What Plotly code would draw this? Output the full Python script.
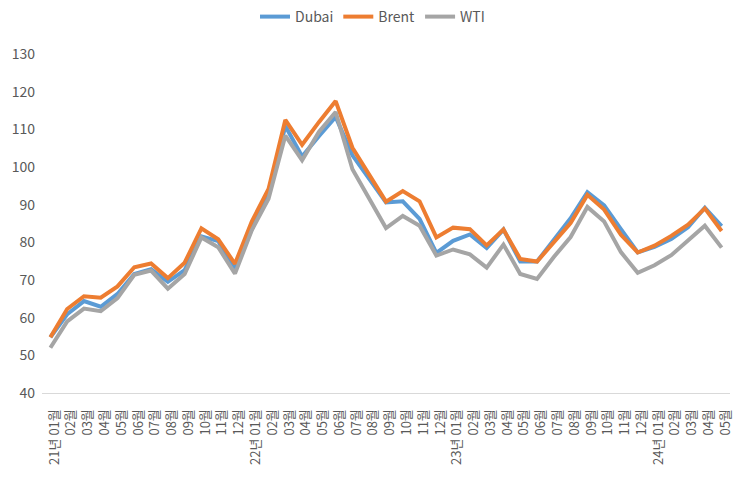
import plotly.graph_objects as go

labels = ["21년 01월", "02월", "03월", "04월", "05월", "06월", "07월", "08월", "09월", "10월", "11월", "12월",
          "22년 01월", "02월", "03월", "04월", "05월", "06월", "07월", "08월", "09월", "10월", "11월", "12월",
          "23년 01월", "02월", "03월", "04월", "05월", "06월", "07월", "08월", "09월", "10월", "11월", "12월",
          "24년 01월", "02월", "03월", "04월", "05월"]

dubai = [54.8, 60.9, 64.4, 62.9, 66.3, 71.6, 72.9, 69.5, 72.6, 81.6, 80.3, 73.2,
         83.5, 92.4, 110.9, 102.8, 108.2, 113.3, 103.1, 96.7, 90.6, 90.9, 86.2, 77.2,
         80.4, 82.1, 78.5, 83.4, 74.9, 74.9, 80.5, 86.4, 93.3, 89.8, 83.5, 77.3,
         78.8, 80.9, 84.0, 89.2, 84.3]
brent = [54.8, 62.3, 65.7, 65.3, 68.3, 73.4, 74.4, 70.5, 74.6, 83.7, 80.8, 74.3,
         85.5, 94.2, 112.5, 105.9, 111.9, 117.5, 105.1, 97.7, 90.8, 93.6, 90.9, 81.3,
         83.9, 83.5, 79.2, 83.4, 75.6, 74.9, 79.9, 85.1, 92.6, 88.7, 82.0, 77.3,
         79.1, 81.7, 84.7, 89.0, 83.0]
wti = [52.0, 59.0, 62.4, 61.7, 65.2, 71.4, 72.5, 67.7, 71.6, 81.3, 78.7, 71.7,
       83.2, 91.6, 108.3, 101.8, 109.3, 114.6, 99.4, 91.5, 83.8, 87.0, 84.4, 76.5,
       78.1, 76.8, 73.3, 79.4, 71.6, 70.3, 76.1, 81.4, 89.4, 85.5, 77.4, 71.9,
       73.9, 76.6, 80.4, 84.4, 78.6]

series = [("Dubai", dubai, "#5B9BD5"), ("Brent", brent, "#ED7D31"), ("WTI", wti, "#A5A5A5")]

x = list(range(len(labels)))
fig = go.Figure()
for name, vals, color in series:
    fig.add_trace(go.Scatter(x=x, y=vals, name=name, mode="lines",
                             line=dict(color=color, width=4, shape="linear")))

font = "Noto Sans CJK KR, Noto Sans, sans-serif"
fig.update_layout(
    width=745, height=477,
    margin=dict(l=42, r=15, t=54, b=84, autoexpand=False),
    paper_bgcolor="white", plot_bgcolor="white",
    font=dict(family=font, color="#595959", size=13),
    showlegend=True,
    legend=dict(orientation="h", x=0.5, xanchor="center", xref="container",
                y=1 - 17 / 477, yanchor="middle", yref="container",
                font=dict(size=14, color="#595959"), itemwidth=30,
                traceorder="normal"),
    xaxis=dict(range=[-0.5, len(labels) - 0.5], tickmode="array", tickvals=x, ticktext=labels,
               tickangle=-90, showgrid=False, showline=True, linecolor="#D9D9D9", linewidth=1,
               ticks="", zeroline=False, automargin=False, ticklabelstandoff=10,
               ticklabelshift=4, tickfont=dict(size=13, color="#595959")),
    yaxis=dict(range=[40, 130], dtick=10, showgrid=False, showline=False, zeroline=False,
               ticks="", automargin=False, tickfont=dict(size=14, color="#595959"),
               ticklabelstandoff=6),
)
fig.write_html("out.html", post_script="document.body.style.margin='0';",
               config={"displayModeBar": False})
